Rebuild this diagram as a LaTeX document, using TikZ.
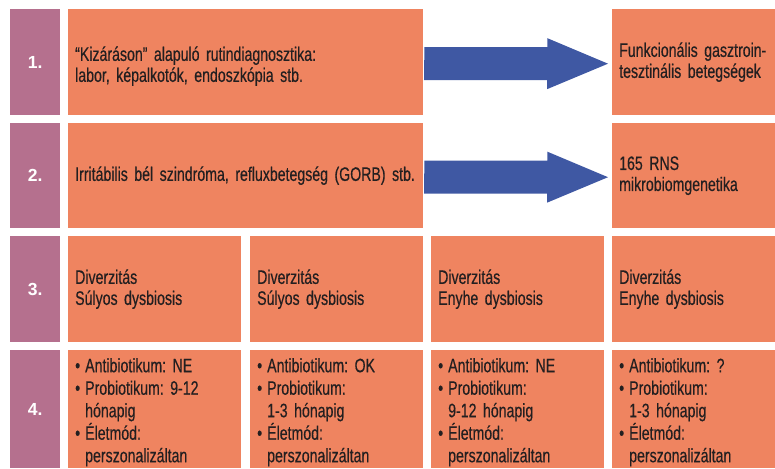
\documentclass[tikz,border=0pt]{standalone}
\usepackage{fontspec}
\setmainfont{Liberation Sans}[FakeStretch=0.725, FakeBold=0.4]
\newfontfamily\numfont{Liberation Sans}
\usetikzlibrary{positioning}
\frenchspacing

\definecolor{rowpurple}{HTML}{B5708E}
\definecolor{cellorange}{HTML}{EF8460}
\definecolor{arrowblue}{HTML}{3F58A3}
\definecolor{celltext}{HTML}{231F20}

\newcommand{\itm}{\makebox[10pt][l]{\textbullet}}
\newcommand{\ind}{\hspace*{10pt}}

\tikzset{
  numcell/.style={fill=rowpurple, text=white, font=\numfont\bfseries\fontsize{17.5}{20}\selectfont,
    minimum width=50pt, anchor=north west, inner sep=0pt},
  cell/.style={fill=cellorange, text=celltext, font=\fontsize{19.5}{21}\selectfont,
    align=left, anchor=north west, inner xsep=7pt, inner ysep=0pt},
  celltxt/.style={text=celltext, font=\fontsize{19.5}{21}\selectfont,
    align=left, anchor=west, inner xsep=7pt, inner ysep=0pt},
  listtxt/.style={celltxt, font=\fontsize{19.5}{22.5}\selectfont},
}

\begin{document}
\begin{tikzpicture}[x=1pt, y=-1pt]
\useasboundingbox (0,0) rectangle (775,468);

% ---------- row 1 ----------
\node[numcell, minimum height=106pt] (n1) at (10,9) {1.};
\node[cell, minimum height=106pt, minimum width=355pt] (c1) at (68,9) {};
\node[celltxt, text width=341pt] (c1t) at ([yshift=-4pt]c1.west)
  {“Kizáráson” alapuló rutindiagnosztika:\\labor, képalkotók, endoszkópia stb.};
\node[cell, minimum height=106pt, text width=149pt] (f1) at (612,9)
  {Funkcionális gasztroin-\\tesztinális betegségek};

% ---------- row 2 ----------
\node[numcell, minimum height=105pt] (n2) at (10,123) {2.};
\node[cell, minimum height=105pt, text width=341pt] (c2) at (68,123)
  {Irritábilis bél szindróma, refluxbetegség (GORB) stb.};
\node[cell, minimum height=105pt, text width=149pt] (f2) at (612,123)
  {165 RNS\\mikrobiomgenetika};

% arrows
\foreach \r in {1,2}{
  \coordinate (s\r) at ([xshift=1pt,yshift=-1.5pt]c\r.east);
  \coordinate (t\r) at ([xshift=-4pt,yshift=-1.5pt]f\r.west);
  \fill[arrowblue] (s\r) ++(0,-16.5) -- ++(123,0) -- ++(0,-9) -- (t\r)
    -- ++(-61,25.5) -- ++(0,-9) -- ++(-123,0) -- cycle;
}

% ---------- row 3 ----------
\node[numcell, minimum height=106pt] (n3) at (10,236) {3.};
\node[cell, minimum height=106pt, text width=159pt] (d1) at (68,236)
  {Diverzitás\\Súlyos dysbiosis};
\node[cell, minimum height=106pt, text width=159pt] (d2) at (250,236)
  {Diverzitás\\Súlyos dysbiosis};
\node[cell, minimum height=106pt, text width=159pt] (d3) at (431,236)
  {Diverzitás\\Enyhe dysbiosis};
\node[cell, minimum height=106pt, text width=149pt] (d4) at (612,236)
  {Diverzitás\\Enyhe dysbiosis};

% ---------- row 4 ----------
\node[numcell, minimum height=118pt] (n4) at (10,350) {4.};
\node[cell, minimum height=118pt, minimum width=173pt] (b1) at (68,350) {};
\node[cell, minimum height=118pt, minimum width=173pt] (b2) at (250,350) {};
\node[cell, minimum height=118pt, minimum width=173pt] (b3) at (431,350) {};
\node[cell, minimum height=118pt, minimum width=163pt] (b4) at (612,350) {};
\node[listtxt, text width=159pt] (t1) at ([yshift=-3pt]b1.west)
  {\itm Antibiotikum: NE\\\itm Probiotikum: 9-12\\\ind hónapig\\\itm Életmód:\\\ind perszonalizáltan};
\node[listtxt, text width=159pt] (t2) at ([yshift=-3pt]b2.west)
  {\itm Antibiotikum: OK\\\itm Probiotikum:\\\ind 1-3 hónapig\\\itm Életmód:\\\ind perszonalizáltan};
\node[listtxt, text width=159pt] (t3) at ([yshift=-3pt]b3.west)
  {\itm Antibiotikum: NE\\\itm Probiotikum:\\\ind 9-12 hónapig\\\itm Életmód:\\\ind perszonalizáltan};
\node[listtxt, text width=149pt] (t4) at ([yshift=-3pt]b4.west)
  {\itm Antibiotikum: ?\\\itm Probiotikum:\\\ind 1-3 hónapig\\\itm Életmód:\\\ind perszonalizáltan};

\end{tikzpicture}
\end{document}
